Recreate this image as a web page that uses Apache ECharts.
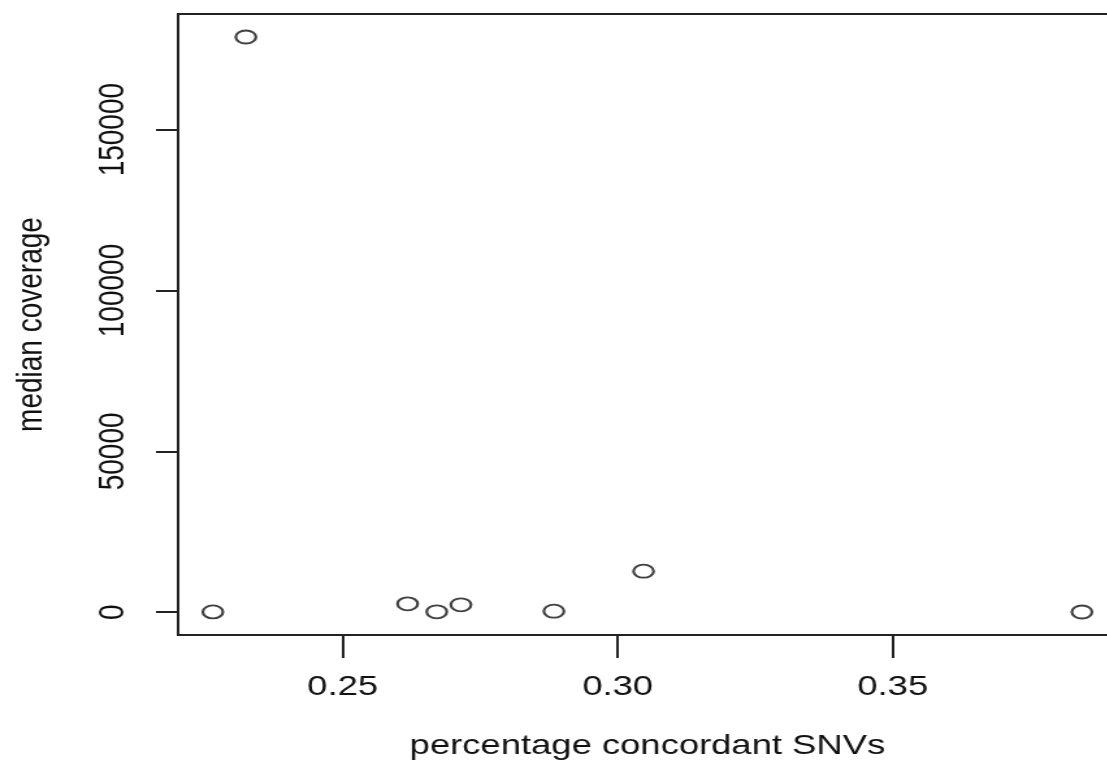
<!DOCTYPE html>
<html>
<head>
<meta charset="utf-8">
<script src="https://cdn.jsdelivr.net/npm/echarts@6/dist/echarts.min.js"></script>
<style>
  html, body { margin: 0; padding: 0; background: #fff; overflow: hidden; }
  /* the reference is an R plot stretched sideways, so stretch the canvas the same way;
     it is wider than the window because the plot box runs off the right edge */
  #main { width: 880px; height: 770px; transform: scaleX(1.3); transform-origin: 0 0; }
</style>
</head>
<body>
<div id="main"></div>
<script>
// values
const concordant = [0.2264, 0.2324, 0.2618, 0.2671, 0.2715, 0.2884, 0.3047, 0.3844];
const coverage = [90, 178800, 2600, 120, 2300, 310, 12750, 60];
const xTicks = [0.25, 0.30, 0.35];
const yTicks = [0, 50000, 100000, 150000];

// R pads the data range by 4% on each side
function padRange(arr) {
  const lo = Math.min(...arr);
  const hi = Math.max(...arr);
  const d = (hi - lo) * 0.04;
  return [lo - d, hi + d];
}
const xr = padRange(concordant);
const yr = padRange(coverage);

const points = concordant.map((x, i) => [x, coverage[i]]);
const font = "'Liberation Sans', Arial, sans-serif";
const ink = "#222";

const myChart = echarts.init(document.getElementById("main"));

const option = {
  animation: false,
  backgroundColor: "#fff",
  grid: {
    left: 137,
    top: 14,
    width: 722,
    height: 621,
    show: true,
    borderColor: ink,
    borderWidth: 2,
  },
  xAxis: {
    type: "value",
    min: xr[0],
    max: xr[1],
    name: "percentage concordant SNVs",
    nameLocation: "middle",
    nameGap: 97,
    nameTextStyle: { fontFamily: font, fontSize: 28, color: "#111", lineHeight: 28 },
    axisLine: { show: false, onZero: false },
    splitLine: { show: false },
    axisTick: {
      customValues: xTicks,
      length: 23,
      lineStyle: { color: ink, width: 2 },
    },
    axisLabel: {
      customValues: xTicks,
      margin: 38,
      fontFamily: font,
      fontSize: 28,
      lineHeight: 28,
      color: "#111",
      formatter: (v) => v.toFixed(2),
    },
  },
  yAxis: {
    type: "value",
    min: yr[0],
    max: yr[1],
    name: "median coverage",
    nameLocation: "middle",
    nameGap: 99,
    nameTextStyle: { fontFamily: font, fontSize: 28, color: "#111", lineHeight: 28 },
    axisLine: { show: false, onZero: false },
    splitLine: { show: false },
    axisTick: {
      customValues: yTicks,
      length: 17,
      lineStyle: { color: ink, width: 2 },
    },
    axisLabel: {
      customValues: yTicks,
      rotate: 90,
      margin: 36,
      fontFamily: font,
      fontSize: 28,
      lineHeight: 28,
      color: "#111",
      formatter: (v) => String(v),
    },
  },
  series: [
    {
      type: "scatter",
      data: points,
      symbol: "path://M0,50 A50,50 0 1,1 100,50 A50,50 0 1,1 0,50 Z",
      symbolSize: [15.5, 13],
      itemStyle: {
        color: "transparent",
        borderColor: "#111",
        borderWidth: 2,
      },
      emphasis: { disabled: true },
    },
  ],
};

option && myChart.setOption(option);
</script>
</body>
</html>
